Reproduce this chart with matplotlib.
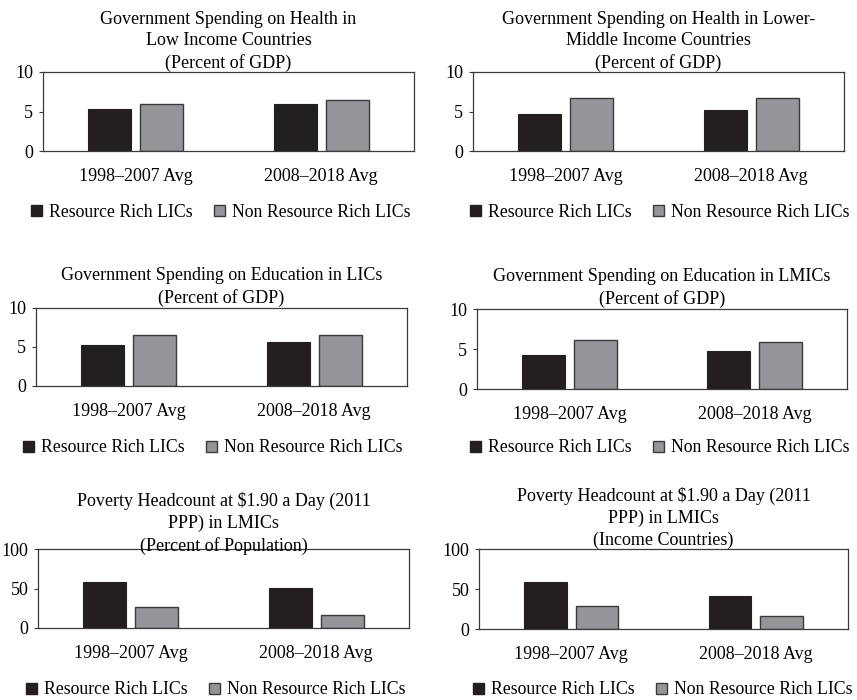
import matplotlib.pyplot as plt
from matplotlib.patches import Patch
import numpy as np

plt.rcParams['font.family'] = ['Liberation Serif', 'DejaVu Serif']
plt.rcParams['font.size'] = 13

periods = ["1998–2007 Avg", "2008–2018 Avg"]
series_names = ["Resource Rich LICs", "Non Resource Rich LICs"]

health_lic_rich = [5.3, 5.9]
health_lic_non = [6.0, 6.4]
health_lmic_rich = [4.7, 5.2]
health_lmic_non = [6.7, 6.7]
edu_lic_rich = [5.2, 5.6]
edu_lic_non = [6.6, 6.6]
edu_lmic_rich = [4.2, 4.8]
edu_lmic_non = [6.1, 5.9]
pov_lmic_rich = [58, 51]
pov_lmic_non = [26, 16]
pov_inc_rich = [59, 41]
pov_inc_non = [29, 16]

titles = [
    "Government Spending on Health in\nLow Income Countries\n(Percent of GDP)",
    "Government Spending on Health in Lower-\nMiddle Income Countries\n(Percent of GDP)",
    "Government Spending on Education in LICs\n(Percent of GDP)",
    "Government Spending on Education in LMICs\n(Percent of GDP)",
    "Poverty Headcount at \\$1.90 a Day (2011\nPPP) in LMICs\n(Percent of Population)",
    "Poverty Headcount at \\$1.90 a Day (2011\nPPP) in LMICs\n(Income Countries)",
]
rich = [health_lic_rich, health_lmic_rich, edu_lic_rich, edu_lmic_rich, pov_lmic_rich, pov_inc_rich]
non = [health_lic_non, health_lmic_non, edu_lic_non, edu_lmic_non, pov_lmic_non, pov_inc_non]
ymax = [10, 10, 10, 10, 100, 100]

# axes boxes in pixels: left, top, right, bottom ; legend centre x, y ; title pad
W, H = 857, 700
boxes = [(43, 72, 414, 151), (473, 72, 844, 151),
         (36, 308, 407, 386), (477, 309, 847, 389),
         (38, 549, 409, 628), (479, 549, 848, 629)]
legend_at = [(221, 212), (660, 212), (213, 448), (660, 448), (216, 690), (663, 690)]
title_pad = [3, 3, 4, 4, -1.5, 3]

black = '#231f20'
gray = '#939598'
edge = '#3a3a3a'

fig = plt.figure(figsize=(W / 100, H / 100), dpi=100)

x = np.arange(len(periods))
bw = 0.23
off = 0.14
for i in range(6):
    l, t, r, b = boxes[i]
    ax = fig.add_axes([l / W, 1 - b / H, (r - l) / W, (b - t) / H])
    ax.bar(x - off, rich[i], bw, color=black, edgecolor=black, linewidth=0.8)
    ax.bar(x + off, non[i], bw, color=gray, edgecolor=edge, linewidth=1.0)
    ax.set_xlim(-0.5, 1.5)
    ax.set_ylim(0, ymax[i])
    ax.set_yticks([0, ymax[i] / 2, ymax[i]])
    ax.set_yticklabels([0, int(ymax[i] / 2), ymax[i]])
    ax.set_xticks(x)
    ax.set_xticklabels(periods)
    ax.tick_params(axis='x', length=0, pad=12)
    ax.tick_params(axis='y', length=3, width=0.8, pad=4, color=edge)
    for s in ax.spines.values():
        s.set_color(edge)
        s.set_linewidth(0.9)
    ax.set_title(titles[i], y=1.0, pad=title_pad[i], linespacing=1.35, fontsize=13)
    handles = [Patch(facecolor=black, edgecolor=black),
               Patch(facecolor=gray, edgecolor=edge)]
    lx, ly = legend_at[i]
    fig.legend(handles, series_names, loc='center', ncol=2,
               bbox_to_anchor=(lx / W, 1 - ly / H), frameon=False,
               handlelength=0.6, handleheight=0.6, handletextpad=0.4,
               columnspacing=1.2, borderpad=0, fontsize=12.8)

plt.savefig("out.png", dpi=100)
